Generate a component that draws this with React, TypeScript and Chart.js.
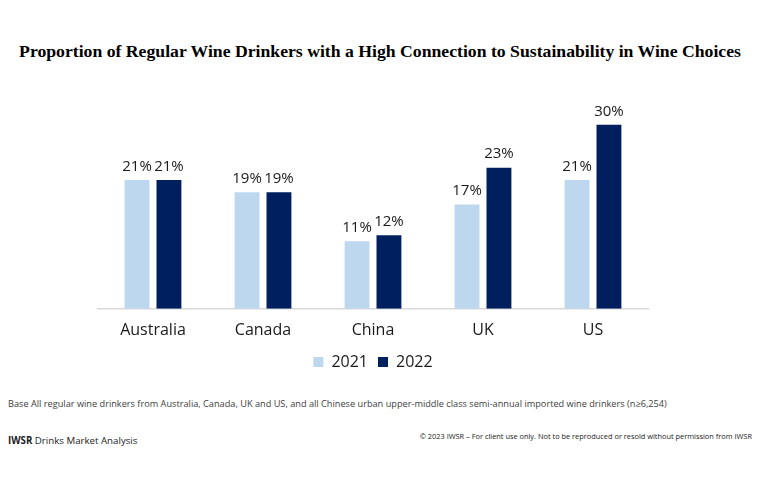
import React, { useEffect, useRef } from "react";
import { Chart, registerables } from "chart.js";

Chart.register(...registerables);

const categories = ["Australia", "Canada", "China", "UK", "US"];
const series2021 = [21, 19, 11, 17, 21];
const series2022 = [21, 19, 12, 23, 30];
const seriesNames = ["2021", "2022"];

const TITLE = "Proportion of Regular Wine Drinkers with a High Connection to Sustainability in Wine Choices";
const BASE_NOTE =
  "Base All regular wine drinkers from Australia, Canada, UK and US, and all Chinese urban upper-middle class semi-annual imported wine drinkers (n\u22656,254)";
const COPYRIGHT = "\u00a9 2023 IWSR \u2013 For client use only. Not to be reproduced or resold without permission from IWSR";

const LIGHT = "#BDD7EE";
const DARK = "#001F5F";

const valueLabels = {
  id: "valueLabels",
  afterDatasetsDraw(chart: any) {
    const ctx = chart.ctx;
    ctx.save();
    ctx.font = "15px 'Open Sans'";
    ctx.fillStyle = "#1a1a1a";
    ctx.textAlign = "center";
    ctx.textBaseline = "bottom";
    chart.data.datasets.forEach((ds: any, i: number) => {
      const meta = chart.getDatasetMeta(i);
      meta.data.forEach((bar: any, j: number) => {
        ctx.fillText(ds.data[j] + "%", bar.x, bar.y - 6);
      });
    });
    ctx.restore();
  },
};

export default function App() {
  const ref = useRef<HTMLCanvasElement | null>(null);

  useEffect(() => {
    if (!ref.current) return;
    const chart = new Chart(ref.current, {
      type: "bar",
      data: {
        labels: categories,
        datasets: [
          {
            label: seriesNames[0],
            data: series2021,
            backgroundColor: LIGHT,
            categoryPercentage: 0.58,
            barPercentage: 0.78,
          },
          {
            label: seriesNames[1],
            data: series2022,
            backgroundColor: DARK,
            categoryPercentage: 0.58,
            barPercentage: 0.78,
          },
        ],
      },
      options: {
        animation: false,
        responsive: false,
        maintainAspectRatio: false,
        layout: { padding: { left: 98, right: 112, top: 88, bottom: 0 } },
        scales: {
          x: {
            grid: { display: false },
            border: { display: true, color: "#D9D9D9", width: 1.5 },
            ticks: {
              color: "#1a1a1a",
              font: { family: "'Open Sans'", size: 16 },
              padding: 4,
            },
          },
          y: {
            display: false,
            min: 0,
            max: 36,
          },
        },
        plugins: {
          legend: {
            position: "bottom",
            labels: {
              boxWidth: 10,
              boxHeight: 10,
              color: "#1a1a1a",
              font: { family: "'Open Sans'", size: 16 },
              padding: 10,
            },
          },
          tooltip: { enabled: false },
        },
      },
      plugins: [valueLabels],
    });
    return () => chart.destroy();
  }, []);

  return (
    <div style={{ position: "absolute", left: 0, top: 0, width: 760, height: 500, background: "#fff" }}>
      <div
        style={{
          position: "absolute",
          top: 41,
          left: 0,
          width: 760,
          textAlign: "center",
          fontFamily: "'Liberation Serif', serif",
          fontWeight: "bold",
          fontSize: 17.7,
          color: "#000",
          whiteSpace: "nowrap",
        }}
      >
        {TITLE}
      </div>
      <canvas ref={ref} width={760} height={380} style={{ position: "absolute", left: 0, top: 0 }} />
      <div
        style={{
          position: "absolute",
          top: 397,
          left: 8,
          fontFamily: "'Open Sans', sans-serif",
          fontSize: 9.2,
          color: "#404040",
          whiteSpace: "nowrap",
        }}
      >
        {BASE_NOTE}
      </div>
      <div
        style={{
          position: "absolute",
          top: 434,
          left: 8,
          fontFamily: "'Open Sans', sans-serif",
          fontSize: 9.7,
          color: "#1a1a1a",
          whiteSpace: "nowrap",
        }}
      >
        <b>IWSR</b> Drinks Market Analysis
      </div>
      <div
        style={{
          position: "absolute",
          top: 431,
          right: 8,
          fontFamily: "'Open Sans', sans-serif",
          fontSize: 7.4,
          color: "#1a1a1a",
          whiteSpace: "nowrap",
        }}
      >
        {COPYRIGHT}
      </div>
    </div>
  );
}
